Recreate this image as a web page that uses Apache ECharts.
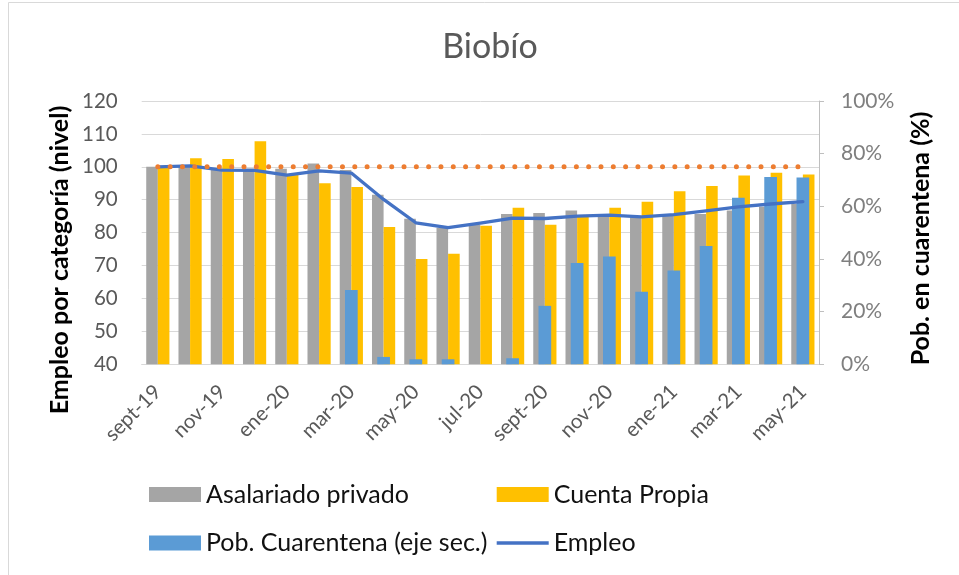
<!DOCTYPE html>
<html><head><meta charset="utf-8">
<script src="https://cdn.jsdelivr.net/npm/echarts@6/dist/echarts.min.js"></script>
<style>html,body{margin:0;padding:0;background:#fff}#c{width:959px;height:575px}</style>
</head><body><div id="c"></div>
<script>
const categories = ['sept-19','oct-19','nov-19','dic-19','ene-20','feb-20','mar-20','abr-20','may-20','jun-20','jul-20','ago-20','sept-20','oct-20','nov-20','dic-20','ene-21','feb-21','mar-21','abr-21','may-21'];
const asalariado = [100.0, 100.5, 99.2, 99.5, 99.4, 101.0, 99.0, 91.5, 84.2, 81.5, 82.3, 85.7, 86.0, 86.7, 85.6, 84.8, 85.2, 85.7, 86.7, 87.9, 88.7];
const cuentaPropia = [99.8, 102.6, 102.4, 107.8, 97.5, 95.0, 93.9, 81.7, 72.0, 73.6, 82.1, 87.6, 82.4, 84.8, 87.6, 89.4, 92.6, 94.2, 97.4, 98.2, 97.7];
const cuarentena = [0, 0, 0, 0, 0, 0, 28.2, 2.8, 1.9, 1.9, 0, 2.3, 22.2, 38.5, 40.9, 27.6, 35.6, 44.9, 63.3, 71.1, 70.9];
const empleo = [100.0, 100.3, 99.0, 98.9, 97.5, 98.8, 98.1, 90.1, 83.0, 81.5, 82.9, 84.4, 84.3, 85.0, 85.3, 84.8, 85.5, 86.6, 87.8, 88.7, 89.4];
const referencia = [100, 100, 100, 100, 100, 100, 100, 100, 100, 100, 100, 100, 100, 100, 100, 100, 100, 100, 100, 100, 100];

const FONT = 'Lato';
const chart = echarts.init(document.getElementById('c'), null, {renderer: 'canvas'});
const legendText = {fontFamily: FONT, fontSize: 25, color: '#111', lineHeight: 30};
chart.setOption({
  backgroundColor: '#ffffff',
  animation: false,
  grid: {left: 141.7, right: 140, top: 101, bottom: 210.7},
  xAxis: [
    {type: 'category', data: categories, boundaryGap: true,
     axisLine: {lineStyle: {color: '#D9D9D9', width: 1}},
     axisTick: {show: false},
     axisLabel: {interval: 1, rotate: 45, margin: 24, padding: [14, 0, 0, 0], color: '#595959', fontFamily: FONT, fontSize: 20.5},
     splitLine: {show: false}},
    {type: 'category', data: categories, show: false}
  ],
  yAxis: [
    {type: 'value', min: 40, max: 120, interval: 10, startValue: 40,
     axisLine: {show: false}, axisTick: {show: false},
     splitLine: {lineStyle: {color: '#D9D9D9', width: 1}},
     axisLabel: {color: '#595959', fontFamily: FONT, fontSize: 20.5, margin: 24}},
    {type: 'value', min: 0, max: 100, interval: 20, position: 'right',
     axisLine: {show: true, lineStyle: {color: '#BFBFBF', width: 1}},
     axisTick: {show: true, inside: false, length: 5, lineStyle: {color: '#BFBFBF'}},
     splitLine: {show: false},
     axisLabel: {formatter: '{value}%', color: '#7F7F7F', fontFamily: FONT, fontSize: 21, margin: 22}}
  ],
  legend: [
    {orient: 'vertical', left: 149, top: 479.5, padding: 0, itemWidth: 52, itemHeight: 15, itemGap: 18.5,
     textStyle: legendText,
     data: [{name: 'Asalariado privado', icon: 'rect'}, {name: 'Pob. Cuarentena (eje sec.)', icon: 'rect'}]},
    {orient: 'vertical', left: 496.7, top: 479.5, padding: 0, itemWidth: 52, itemHeight: 15, itemGap: 18.5,
     textStyle: legendText,
     data: [{name: 'Cuenta Propia', icon: 'rect'},
            {name: 'Empleo', icon: 'path://M0,0 L52,0 L52,3.3 L0,3.3 Z', itemStyle: {color: '#4472C4'}}]}
  ],
  series: [
    {name: 'Asalariado privado', type: 'bar', data: asalariado, xAxisIndex: 0, yAxisIndex: 0,
     barWidth: 11.6, barGap: '0%', clip: true, itemStyle: {color: '#A5A5A5'}, z: 2},
    {name: 'Cuenta Propia', type: 'bar', data: cuentaPropia, xAxisIndex: 0, yAxisIndex: 0,
     barWidth: 11.6, barGap: '0%', clip: true, itemStyle: {color: '#FFC000'}, z: 2},
    {name: 'Pob. Cuarentena (eje sec.)', type: 'bar', data: cuarentena, xAxisIndex: 1, yAxisIndex: 1,
     barWidth: 12.7, itemStyle: {color: '#5B9BD5'}, z: 3},
    {name: 'Empleo', type: 'line', data: empleo, xAxisIndex: 0, yAxisIndex: 0, symbol: 'none',
     lineStyle: {color: '#4472C4', width: 3.3, cap: 'round', join: 'round'}, itemStyle: {color: '#4472C4'}, z: 5},
    {name: 'Referencia', type: 'line', data: referencia, xAxisIndex: 0, yAxisIndex: 0, symbol: 'none',
     lineStyle: {color: '#ED7D31', width: 5, type: [0.01, 12.3], cap: 'round'}, itemStyle: {color: '#ED7D31'}, z: 6}
  ],
  graphic: [
    {type: 'rect', shape: {x: 8.5, y: 2.5, width: 1000, height: 1000}, style: {fill: 'none', stroke: '#D9D9D9', lineWidth: 1}, silent: true},
    {type: 'text', x: 490, y: 47, style: {text: 'Biobío', fontFamily: FONT, fontSize: 34, fill: '#595959', align: 'center', verticalAlign: 'middle'}},
    {type: 'text', x: 60, y: 260, rotation: Math.PI / 2, style: {text: 'Empleo por categoría (nivel)', fontFamily: FONT, fontWeight: 'bold', fontSize: 25, fill: '#000', align: 'center', verticalAlign: 'middle'}},
    {type: 'text', x: 921, y: 238.5, rotation: Math.PI / 2, style: {text: 'Pob. en cuarentena (%)', fontFamily: FONT, fontWeight: 'bold', fontSize: 25, fill: '#000', align: 'center', verticalAlign: 'middle'}}
  ]
});
</script></body></html>
